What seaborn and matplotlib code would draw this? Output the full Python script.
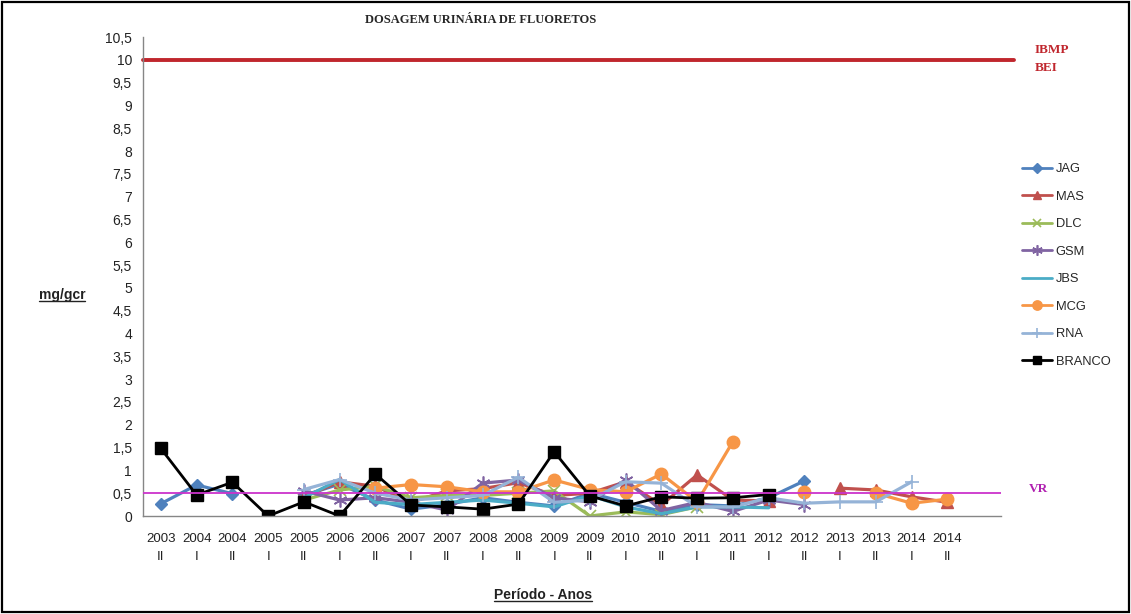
import numpy as np
import pandas as pd
import matplotlib
matplotlib.use("Agg")
import matplotlib.pyplot as plt
from matplotlib.lines import Line2D
from matplotlib.patches import Rectangle
import seaborn as sns

# ---- data -------------------------------------------------------------
years = ["2003", "2004", "2004", "2005", "2005", "2006", "2006", "2007", "2007",
         "2008", "2008", "2009", "2009", "2010", "2010", "2011", "2011", "2012",
         "2012", "2013", "2013", "2014", "2014"]
semesters = ["II", "I", "II", "I", "II", "I", "II", "I", "II", "I", "II", "I",
             "II", "I", "II", "I", "II", "I", "II", "I", "II", "I", "II"]

nan = np.nan
jag = [0.27, 0.68, 0.49, nan, 0.45, 0.70, 0.35, 0.15, 0.25, 0.40, 0.30, 0.22,
       0.50, 0.30, 0.10, 0.25, 0.22, 0.40, 0.77, nan, nan, nan, nan]
mas = [nan, nan, nan, nan, 0.42, 0.75, 0.65, 0.30, 0.55, 0.60, 0.73, 0.45,
       0.50, 0.75, 0.24, 0.90, 0.35, 0.33, nan, 0.61, 0.57, 0.42, 0.30]
dlc = [nan, nan, nan, nan, 0.35, 0.57, 0.65, 0.40, 0.45, 0.45, 0.50, 0.55,
       0.00, 0.09, 0.03, 0.20, nan, nan, nan, nan, nan, nan, nan]
gsm = [nan, nan, nan, nan, 0.55, 0.35, 0.40, 0.30, 0.13, 0.72, 0.79, 0.40,
       0.31, 0.79, 0.12, 0.30, 0.10, 0.35, 0.25, nan, nan, nan, nan]
jbs = [nan, nan, nan, nan, 0.40, 0.80, 0.30, 0.25, 0.30, 0.35, 0.28, 0.20,
       0.45, 0.20, 0.05, 0.20, 0.20, 0.18, nan, nan, nan, nan, nan]
mcg = [nan, nan, nan, nan, nan, nan, 0.61, 0.69, 0.64, 0.53, 0.53, 0.79,
       0.58, 0.53, 0.92, 0.31, 1.63, nan, 0.53, nan, 0.50, 0.28, 0.37]
rna = [nan, nan, nan, nan, 0.58, 0.80, 0.50, 0.35, 0.40, 0.45, 0.85, 0.30,
       0.35, 0.75, 0.72, 0.20, 0.20, 0.40, 0.28, 0.31, 0.31, 0.75, nan]
branco = [1.48, 0.46, 0.74, 0.00, 0.31, 0.00, 0.92, 0.24, 0.20, 0.15, 0.26, 1.41,
          0.44, 0.22, 0.42, 0.39, 0.40, 0.47, nan, nan, nan, nan, nan]

bei_limit = 10.0
reference_value = 0.5

series_names = ["JAG", "MAS", "DLC", "GSM", "JBS", "MCG", "RNA", "BRANCO"]
series_values = [jag, mas, dlc, gsm, jbs, mcg, rna, branco]

# ---- styles -----------------------------------------------------------
styles = {
    "JAG":    dict(color="#4F81BD", marker="D", ms=6.5, mew=1.0),
    "MAS":    dict(color="#C0504D", marker="^", ms=8, mew=1.0),
    "DLC":    dict(color="#9BBB59", marker="x", ms=8, mew=1.2),
    "GSM":    dict(color="#8064A2", marker=(6, 2, 0), ms=10, mew=1.2),
    "JBS":    dict(color="#4BACC6", marker=None, ms=0, mew=0),
    "MCG":    dict(color="#F79646", marker="o", ms=9, mew=1.0),
    "RNA":    dict(color="#95B3D7", marker="+", ms=10, mew=1.2),
    "BRANCO": dict(color="#000000", marker="s", ms=8, mew=1.0),
}

# long-form table; a new segment starts after every missing value
rows = []
for name, vals in zip(series_names, series_values):
    seg = 0
    for i, v in enumerate(vals):
        if np.isnan(v):
            seg += 1
            continue
        rows.append(dict(series=name, x=i, value=v, seg=seg))
df = pd.DataFrame(rows)

# ---- figure -----------------------------------------------------------
sns.set_style("white")
plt.rcParams["font.family"] = ["Liberation Sans", "DejaVu Sans"]

W, H = 1131, 614
fig = plt.figure(figsize=(W / 100, H / 100), dpi=100)
ax = fig.add_axes([143 / W, 1 - 516 / H, (1001 - 143) / W, (516 - 37) / H])

for name in series_names:
    st = styles[name]
    sub = df[df["series"] == name]
    kw = dict(color=st["color"], linewidth=2.3 if name != "BRANCO" else 2.0)
    if st["marker"] is not None:
        kw.update(marker=st["marker"], markersize=st["ms"],
                  markeredgewidth=st["mew"], markeredgecolor=st["color"],
                  markerfacecolor=st["color"])
    sns.lineplot(data=sub, x="x", y="value", units="seg", estimator=None,
                 ax=ax, legend=False, sort=True, **kw)

# reference lines
ax.axhline(bei_limit, xmin=0, xmax=1.015, color="#C0262D", linewidth=2.8,
           clip_on=False, zorder=1)
ax.axhline(reference_value, color="#CC33CC", linewidth=1.3, zorder=5)

# axes
n_cat = len(years) + 1
ax.set_xlim(-0.5, n_cat - 0.5)
ax.set_ylim(0, 10.5)
yt = np.arange(0, 10.51, 0.5)
ax.set_yticks(yt)
ax.set_yticklabels([("%g" % t).replace(".", ",") for t in yt], fontsize=10,
                   color="#222222")
ax.set_xticks(np.arange(-0.5, n_cat, 1.0))
ax.set_xticklabels([])
ax.set_xticks(np.arange(len(years)), minor=True)
ax.set_xticklabels([f"{y}\n{s}" for y, s in zip(years, semesters)], minor=True,
                   fontsize=9.5, color="#222222", linespacing=1.75)
ax.tick_params(axis="x", which="major", direction="out", length=4,
               color="#868686", width=1)
ax.tick_params(axis="x", which="minor", length=0, pad=12)
ax.tick_params(axis="y", direction="out", length=4, color="#868686", width=1,
               pad=4)
ax.set_xlabel("")
ax.set_ylabel("")
for side in ("top", "right"):
    ax.spines[side].set_visible(False)
for side in ("left", "bottom"):
    ax.spines[side].set_color("#868686")
    ax.spines[side].set_linewidth(1.0)
ax.grid(False)

# ---- texts ------------------------------------------------------------
fig.text(481 / W, 1 - 20 / H, "DOSAGEM URINÁRIA DE FLUORETOS", ha="center",
         va="center", fontsize=9, fontweight="bold", family="Liberation Serif")
ylab = fig.text(62 / W, 1 - 295 / H, "mg/gcr", ha="center", va="center",
                fontsize=10, fontweight="bold", color="#222222")
xlab = fig.text(543 / W, 1 - 595 / H, "Período - Anos", ha="center",
                va="center", fontsize=10, fontweight="bold", color="#222222")
fig.text(1035 / W, 1 - 50 / H, "IBMP", ha="left", va="center", fontsize=9.5,
         fontweight="bold", color="#C0262D", family="Liberation Serif")
fig.text(1035 / W, 1 - 68 / H, "BEI", ha="left", va="center", fontsize=9.5,
         fontweight="bold", color="#C0262D", family="Liberation Serif")
fig.text(1029 / W, 1 - 489 / H, "VR", ha="left", va="center", fontsize=9.5,
         fontweight="bold", color="#B020B0", family="Liberation Serif")

# legend
handles = []
for name in series_names:
    st = styles[name]
    h = Line2D([], [], color=st["color"], linewidth=2.0,
               marker=st["marker"] if st["marker"] is not None else None,
               markersize=st["ms"] * 0.75, markeredgewidth=st["mew"],
               markeredgecolor=st["color"], markerfacecolor=st["color"])
    handles.append(h)
fig.legend(handles, series_names, loc="upper left",
           bbox_to_anchor=(1017 / W, 1 - 158 / H), frameon=False,
           fontsize=9.3, handlelength=2.3, handletextpad=0.3,
           labelspacing=1.2, borderaxespad=0)

# underline for the axis titles
fig.canvas.draw()
renderer = fig.canvas.get_renderer()
for t in (ylab, xlab):
    bb = t.get_window_extent(renderer)
    yline = bb.y0 + 1
    fig.add_artist(Line2D([bb.x0 / W, bb.x1 / W], [yline / H, yline / H],
                          transform=fig.transFigure, color="#222222",
                          linewidth=1.0))

# outer frame
fig.add_artist(Rectangle((0.002, 0.003), 0.996, 0.994, transform=fig.transFigure,
                         fill=False, edgecolor="black", linewidth=1.6))

fig.savefig("out.png", dpi=100)
